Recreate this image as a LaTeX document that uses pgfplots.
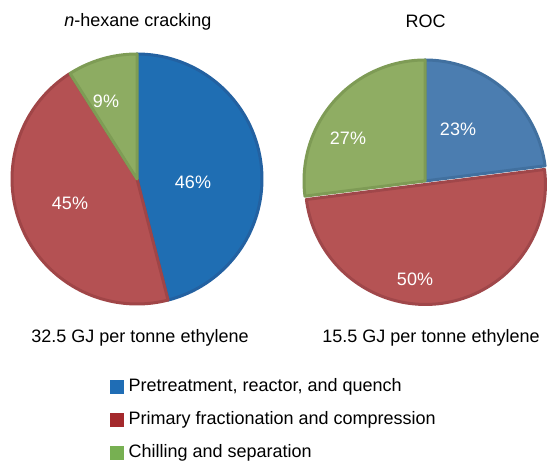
\documentclass[border=0pt]{standalone}
\usepackage{pgfplots}
\pgfplotsset{compat=1.18}
\usepackage{pgfplotstable}
\usepackage{fontspec}
\setmainfont{Liberation Sans}

% slice colours
\definecolor{hexblue}{HTML}{1F6EB3}
\definecolor{hexblueb}{HTML}{2361A1}
\definecolor{hexred}{HTML}{B45153}
\definecolor{hexredb}{HTML}{A04547}
\definecolor{hexgreen}{HTML}{8DAC62}
\definecolor{hexgreenb}{HTML}{7E9C55}
\definecolor{rocblue}{HTML}{4B7DB0}
\definecolor{rocblueb}{HTML}{41709F}
\definecolor{rocred}{HTML}{B55354}
\definecolor{rocredb}{HTML}{A0474A}
\definecolor{rocgreen}{HTML}{8FAD63}
\definecolor{rocgreenb}{HTML}{7E9B55}
% legend swatches
\definecolor{legblue}{HTML}{1F6DB5}
\definecolor{legred}{HTML}{A4292C}
\definecolor{leggreen}{HTML}{77B052}

% energy share of each stage, per cent
\pgfplotstableread{
stage    hexane roc
pretreat 46     23
primary  45     50
chilling 9      27
}\shares

\newcommand{\getshare}[3]{\pgfplotstablegetelem{#1}{#2}\of\shares\edef#3{\pgfplotsretval}}

% wedge: centre x, centre y, radius, from angle, to angle, fill, border
\newcommand{\pieslice}[7]{%
  \addplot[forget plot, fill=#6, draw=#7, line width=3bp, line join=round,
    domain=#4:#5, samples=90, variable=\t]
    ({#1+#3*cos(\t)},{#2+#3*sin(\t)}) -- (axis cs:#1,#2) -- cycle;
}

\begin{document}
\fontsize{18bp}{21bp}\selectfont
\begin{tikzpicture}
\getshare{0}{hexane}\hA
\getshare{1}{hexane}\hB
\getshare{2}{hexane}\hC
\getshare{0}{roc}\rA
\getshare{1}{roc}\rB
\getshare{2}{roc}\rC
% slices run clockwise from 12 o'clock
\pgfmathsetmacro{\hOne}{90-3.6*\hA}
\pgfmathsetmacro{\hTwo}{\hOne-3.6*\hB}
\pgfmathsetmacro{\hThree}{\hTwo-3.6*\hC}
\pgfmathsetmacro{\rOne}{90-3.6*\rA}
\pgfmathsetmacro{\rTwo}{\rOne-3.6*\rB}
\pgfmathsetmacro{\rThree}{\rTwo-3.6*\rC}
% pulled-out middle slice of the ROC pie
\pgfmathsetmacro{\rMid}{(\rOne+\rTwo)/2}
\pgfmathsetmacro{\rcx}{425+3.5*cos(\rMid)}
\pgfmathsetmacro{\rcy}{282+3.5*sin(\rMid)}
\begin{axis}[
  width=547bp, height=463bp, scale only axis,
  xmin=0, xmax=547, ymin=0, ymax=463,
  hide axis,
  legend style={draw=none, fill=none, at={(axis cs:110,85)}, anchor=north west,
    inner sep=0pt, row sep=16bp, column sep=5bp,
    nodes={inner sep=0pt, text height=13bp, text depth=4bp},
    font=\fontsize{18bp}{21bp}\selectfont},
  legend cell align=left,
  legend image code/.code={\fill[#1] (0bp,-6.5bp) rectangle (13bp,6.5bp);},
]
% keep the full canvas as the picture's extent
\path (rel axis cs:0,0) rectangle (rel axis cs:1,1);

\pieslice{137}{284}{125}{\hOne}{90}{hexblue}{hexblueb}
\pieslice{137}{284}{125}{\hTwo}{\hOne}{hexred}{hexredb}
\pieslice{137}{284}{125}{\hThree}{\hTwo}{hexgreen}{hexgreenb}

\pieslice{425}{282}{121}{\rOne}{90}{rocblue}{rocblueb}
\pieslice{425}{282}{121}{\rThree}{\rTwo}{rocgreen}{rocgreenb}
\pieslice{\rcx}{\rcy}{120}{\rTwo}{\rOne}{rocred}{rocredb}

\addlegendimage{legblue}
\addlegendentry{Pretreatment, reactor, and quench}
\addlegendimage{legred}
\addlegendentry{Primary fractionation and compression}
\addlegendimage{leggreen}
\addlegendentry{Chilling and separation}

\begin{scope}[every node/.style={text=white, font=\fontsize{18bp}{21bp}\selectfont}]
\node at (axis cs:193,281) {\hA\%};
\node at (axis cs:70,260) {\hB\%};
\node at (axis cs:106,362) {\hC\%};
\node at (axis cs:458,334) {\rA\%};
\node at (axis cs:415,184) {\rB\%};
\node at (axis cs:348,325) {\rC\%};
\end{scope}

\node[anchor=base] at (axis cs:138,436) {\textit{n}-hexane cracking};
\node[anchor=base] at (axis cs:425.5,435) {ROC};
\node[anchor=base] at (axis cs:140,120) {32.5 GJ per tonne ethylene};
\node[anchor=base] at (axis cs:431,120) {15.5 GJ per tonne ethylene};
\end{axis}
\end{tikzpicture}
\end{document}
